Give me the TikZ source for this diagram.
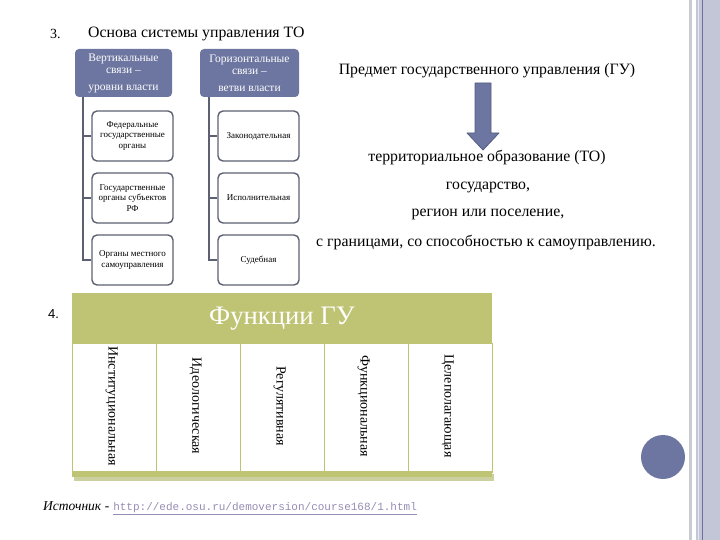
\documentclass[tikz,border=0pt]{standalone}
\usepackage{fontspec}
\setmainfont{Liberation Serif}
\setsansfont{Liberation Sans}
\setmonofont{Liberation Mono}
\usetikzlibrary{calc}

\definecolor{slate}{RGB}{108,118,160}
\definecolor{slatedark}{RGB}{84,92,128}
\definecolor{boxline}{RGB}{92,96,114}
\definecolor{olive}{RGB}{191,196,117}
\definecolor{olivedark}{RGB}{170,176,96}
\definecolor{linkcol}{RGB}{150,140,180}
\definecolor{barlight}{RGB}{200,204,208}
\definecolor{barblue}{RGB}{195,198,214}
\definecolor{barline}{RGB}{110,112,152}

\newcommand{\fs}[1]{\fontsize{#1}{1.15\dimexpr#1pt\relax}\selectfont}

\tikzset{
  topbox/.style={fill=slate, rounded corners=4pt, minimum height=48pt, align=center,
    text=white, inner sep=0pt, font=\fontsize{11.5}{12.5}\selectfont},
  leafbox/.style={draw=boxline, line width=1.4pt, rounded corners=5pt, minimum width=81pt,
    minimum height=50pt, align=center, inner sep=1pt, font=\fs{9}},
  trunk/.style={draw=boxline, line width=1.4pt},
  rtext/.style={font=\fs{15.8}, inner sep=0pt},
  fcol/.style={draw=olive, line width=1.2pt, minimum width=84pt, minimum height=129pt,
    anchor=north west, inner sep=0pt},
}

\begin{document}
\begin{tikzpicture}[x=1pt, y=-1pt]
  \useasboundingbox (0,0) rectangle (720,540);

  % right edge bars
  \fill[barlight] (689,0) rectangle (692,540);
  \fill[barblue] (696,0) rectangle (720,540);
  \draw[barline, line width=1pt] (702,0) -- (702,540);
  \draw[white!60!barblue, line width=1pt] (698.5,0) -- (698.5,540);
  \fill[slate] (663,457) circle (22);

  % 3. structure
  \node[anchor=west, font=\fs{14}, inner sep=0pt] (n3) at (50,34) {3.};
  \node[anchor=west, font=\fs{15.8}, inner sep=0pt] (title) at (88,34) {Основа системы управления ТО};

  \node[topbox, minimum width=97pt] (vert) at (123.5,73)
       {Вертикальные\\связи –\\[4pt]уровни власти};
  \node[topbox, minimum width=99pt] (horz) at (249.5,73)
       {Горизонтальные\\связи –\\[4pt]ветви власти};

  \node[leafbox] (fed)  at (132.5,136) {Федеральные\\государственные\\органы};
  \node[leafbox] (subj) at (132.5,198) {Государственные\\органы субъектов\\РФ};
  \node[leafbox] (mest) at (132.5,260) {Органы местного\\самоуправления};
  \node[leafbox] (zak)  at (258.5,136) {Законодательная};
  \node[leafbox] (isp)  at (258.5,198) {Исполнительная};
  \node[leafbox] (sud)  at (258.5,260) {Судебная};

  \coordinate (vtop) at (83,97);
  \coordinate (htop) at (209,97);
  \draw[trunk] (vtop) |- (fed.west);
  \draw[trunk] (vtop) |- (subj.west);
  \draw[trunk] (vtop) |- (mest.west);
  \draw[trunk] (htop) |- (zak.west);
  \draw[trunk] (htop) |- (isp.west);
  \draw[trunk] (htop) |- (sud.west);

  % subject of management
  \node[rtext] (subject) at (487,71) {Предмет государственного управления (ГУ)};
  \filldraw[fill=slate, draw=slatedark, line width=0.8pt, line join=round]
    (475,83) -- (491,83) -- (491,133) -- (499,133) -- (483,150) -- (467,133) -- (475,133) -- cycle;
  \node[rtext] (terr) at (487,158) {территориальное образование (ТО)};
  \node[rtext] (gos)  at (488,187) {государство,};
  \node[rtext] (reg)  at (488,214) {регион или поселение,};
  \node[rtext] (gran) at (486,243) {с границами, со способностью к самоуправлению.};

  % 4. functions
  \node[anchor=west, font=\sffamily\fs{13}, inner sep=0pt] (n4) at (48,314) {4.};
  \node[fill=olive, minimum width=420pt, minimum height=50pt, anchor=north west, inner sep=0pt,
        text=white, font=\fs{26.7}] (fhead) at (72,293) {};
  \node[text=white, font=\fs{26.7}, inner sep=0pt] (ftitle) at (282,319) {Функции ГУ};
  \fill[olivedark!60!white] (74,474) rectangle (494,481);
  \fill[olive] (72,471) rectangle (492,477);
  \foreach \name [count=\i from 0] in {Институциональная,Идеологическая,Регулятивная,Функциональная,Целеполагающая}{
    \node[fcol] (col\i) at ({72+84*\i},343) {};
    \node[rotate=-90, font=\fs{14}, inner sep=0pt] (lab\i) at ($(col\i.center)+(-3,-2)$) {\name};
  }

  % source
  \node[anchor=west, inner sep=0pt, font=\fs{13.5}] (src) at (43,508)
       {\textit{Источник} -\hspace{4pt}{\color{linkcol}\underline{\ttfamily\fs{11}http://ede.osu.ru/demoversion/course168/1.html}}};
\end{tikzpicture}
\end{document}
